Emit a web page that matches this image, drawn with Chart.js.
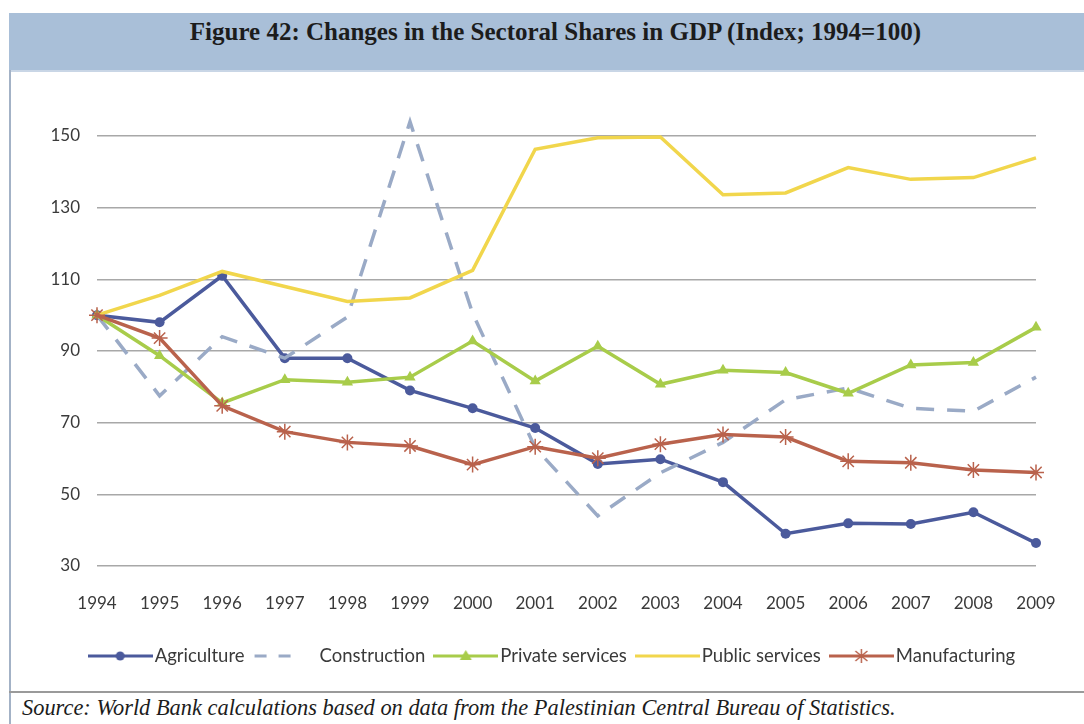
<!DOCTYPE html>
<html>
<head>
<meta charset="utf-8">
<script src="https://cdn.jsdelivr.net/npm/chart.js@4.4.1/dist/chart.umd.min.js"></script>
<style>
  html, body { margin: 0; padding: 0; background: #ffffff; }
  #page { position: relative; width: 1084px; height: 724px; overflow: hidden; background: #ffffff; }
  #titleBand {
    position: absolute; left: 9px; top: 13px; width: 1075px; height: 57px;
    background: #a9bfd8; border-bottom: 2px solid #c9d6e6;
  }
  #titleBand span {
    position: absolute; left: 0; right: 0; top: 5px; text-align: center;
    font-family: "Liberation Serif", "DejaVu Serif", serif; font-weight: bold;
    font-size: 25px; color: #1c1c1c; padding-left: 18px;
  }
  #leftRule { position: absolute; left: 9px; top: 70px; width: 2px; height: 654px; background: #a3b2c6; }
  #bottomRule { position: absolute; left: 9px; top: 691px; width: 1075px; height: 2px; background: #9a9a9a; }
  #source {
    position: absolute; left: 22px; top: 695px;
    font-family: "Liberation Serif", "DejaVu Serif", serif; font-style: italic;
    font-size: 22.4px; color: #1c1c1c; white-space: nowrap;
  }
  #chart { position: absolute; left: 0; top: 0; }
</style>
</head>
<body>
<div id="page">
  <div id="titleBand"><span>Figure 42: Changes in the Sectoral Shares in GDP (Index; 1994=100)</span></div>
  <div id="leftRule"></div>
  <div id="bottomRule"></div>
  <div id="source">Source: World Bank calculations based on data from the Palestinian Central Bureau of Statistics.</div>
  <canvas id="chart" width="1084" height="724"></canvas>
</div>
<script>
// Anos (eixo X)
const years = ['1994', '1995', '1996', '1997', '1998', '1999', '2000', '2001',
               '2002', '2003', '2004', '2005', '2006', '2007', '2008', '2009'];

// Índices setoriais (1994 = 100)
const agriculture     = [100, 98, 111, 88, 88, 79, 74, 68.5, 58.5, 59.8, 53.4, 39, 41.9, 41.7, 45, 36.4];
const construction    = [100, 77.5, 94, 88, 99.5, 154, 100.5, 63, 44, 56, 64.5, 76.4, 79.7, 74, 73.2, 82.7];
const privateServices = [100, 88.7, 75.5, 82, 81.3, 82.7, 92.8, 81.6, 91.3, 80.7, 84.6, 84, 78.2, 86.1, 86.8, 96.6];
const publicServices  = [100, 105.5, 112.2, 108, 103.8, 104.8, 112.5, 146.3, 149.5, 149.7, 133.6, 134.1, 141.2, 137.9, 138.4, 143.9];
const manufacturing   = [100, 93.6, 74.7, 67.5, 64.5, 63.5, 58.3, 63.3, 60.1, 64, 66.7, 66, 59.2, 58.8, 56.8, 56.1];

// Eixo Y
const yTicks = [30, 50, 70, 90, 110, 130, 150];

const seriesNames = ['Agriculture', 'Construction', 'Private services', 'Public services', 'Manufacturing'];

const uiFont = 'Lato, "Open Sans", sans-serif';
const legendFontSize = 18.5;

// Amostra da legenda (linha + marcador), 65px de largura como no original
function legendSwatch(color, marker, dashed) {
    const c = document.createElement('canvas');
    c.width = 65;
    c.height = 16;
    const ctx = c.getContext('2d');
    ctx.strokeStyle = color;
    ctx.fillStyle = color;
    ctx.lineWidth = 3;
    if (dashed) {
        ctx.setLineDash([12, 12]);
        ctx.beginPath(); ctx.moveTo(2, 8); ctx.lineTo(40, 8); ctx.stroke();
        ctx.setLineDash([]);
    } else {
        ctx.beginPath(); ctx.moveTo(0, 8); ctx.lineTo(65, 8); ctx.stroke();
    }
    const cx = 32.5;
    if (marker === 'circle') {
        ctx.beginPath(); ctx.arc(cx, 8, 4.5, 0, Math.PI * 2); ctx.fill();
    } else if (marker === 'triangle') {
        ctx.beginPath(); ctx.moveTo(cx, 2); ctx.lineTo(cx + 6, 12); ctx.lineTo(cx - 6, 12); ctx.closePath(); ctx.fill();
    } else if (marker === 'star') {
        ctx.lineWidth = 1.5;
        ctx.beginPath();
        ctx.moveTo(cx, 1); ctx.lineTo(cx, 15);
        ctx.moveTo(cx - 6, 3); ctx.lineTo(cx + 6, 13);
        ctx.moveTo(cx + 6, 3); ctx.lineTo(cx - 6, 13);
        ctx.stroke();
    }
    return c;
}

const colors = ['#4b5a9c', '#9aaac6', '#a8cc4a', '#f1d64c', '#b9624c'];
const swatches = [
    legendSwatch(colors[0], 'circle', false),
    legendSwatch(colors[1], null, true),
    legendSwatch(colors[2], 'triangle', false),
    legendSwatch(colors[3], null, false),
    legendSwatch(colors[4], 'star', false)
];

// Desloca a legenda 37px para a direita (centro do original ~555px)
const legendShift = {
    id: 'legendShift',
    afterLayout(chart) {
        if (chart.legend) {
            chart.legend.left += 37;
            chart.legend.right += 37;
        }
    }
};

const chart = new Chart(document.getElementById('chart'), {
    type: 'line',
    data: {
        labels: years,
        datasets: [
            {
                label: seriesNames[0], data: agriculture, order: 5,
                borderColor: colors[0], backgroundColor: colors[0], borderWidth: 3.5,
                pointStyle: 'circle', pointRadius: 5, pointBorderWidth: 0
            },
            {
                label: seriesNames[1], data: construction, order: 4,
                borderColor: colors[1], backgroundColor: colors[1], borderWidth: 3.5,
                borderDash: [18, 13], pointRadius: 0
            },
            {
                label: seriesNames[2], data: privateServices, order: 3,
                borderColor: colors[2], backgroundColor: colors[2], borderWidth: 3.5,
                pointStyle: 'triangle', pointRadius: 6.5, pointBorderWidth: 0
            },
            {
                label: seriesNames[3], data: publicServices, order: 2,
                borderColor: colors[3], backgroundColor: colors[3], borderWidth: 3.5,
                pointRadius: 0
            },
            {
                label: seriesNames[4], data: manufacturing, order: 1,
                borderColor: colors[4], backgroundColor: colors[4], borderWidth: 3.5,
                pointStyle: 'star', pointRadius: 8, pointBorderWidth: 1.5
            }
        ]
    },
    options: {
        responsive: false,
        animation: false,
        clip: false,
        layout: { padding: { top: 136, right: 48, bottom: 48.75, left: 0 } },
        scales: {
            x: {
                offset: false,
                grid: { display: false },
                border: { display: false },
                ticks: { color: '#3a3a3a', font: { family: uiFont, size: 17 }, padding: 19, maxRotation: 0, autoSkip: false },
                afterFit: function(scale) { scale.height = 65.5; }
            },
            y: {
                min: 30,
                max: 150,
                afterBuildTicks: function(scale) { scale.ticks = yTicks.map(v => ({ value: v })); },
                grid: { color: '#a8a8a8', lineWidth: 1.5, drawTicks: false },
                border: { display: false },
                ticks: { color: '#3a3a3a', font: { family: uiFont, size: 17 }, padding: 17 },
                afterFit: function(scale) { scale.width = 97; }
            }
        },
        plugins: {
            legend: {
                position: 'bottom',
                labels: {
                    usePointStyle: true,
                    // caixa menor que a amostra: o texto fica a 2px da linha
                    pointStyleWidth: 50.5,
                    boxHeight: 16,
                    padding: 15.25,
                    color: '#3a3a3a',
                    font: { family: uiFont, size: legendFontSize },
                    sort: (a, b) => a.datasetIndex - b.datasetIndex,
                    generateLabels: function(chart) {
                        const items = Chart.defaults.plugins.legend.labels.generateLabels(chart);
                        items.forEach(item => { item.pointStyle = swatches[item.datasetIndex]; });
                        return items;
                    }
                }
            },
            tooltip: { enabled: false }
        }
    },
    plugins: [legendShift]
});
</script>
</body>
</html>
